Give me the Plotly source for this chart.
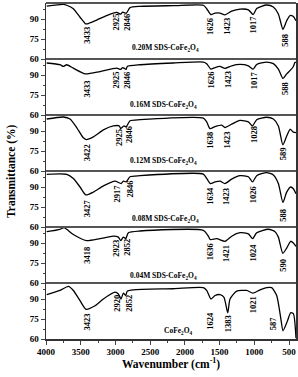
import plotly.graph_objects as go

# ---------------- data ----------------
samples = ["0.20M SDS-CoFe<sub>2</sub>O<sub>4</sub>",
           "0.16M SDS-CoFe<sub>2</sub>O<sub>4</sub>",
           "0.12M SDS-CoFe<sub>2</sub>O<sub>4</sub>",
           "0.08M SDS-CoFe<sub>2</sub>O<sub>4</sub>",
           "0.04M SDS-CoFe<sub>2</sub>O<sub>4</sub>",
           "CoFe<sub>2</sub>O<sub>4</sub>"]

wn_020 = [3990, 3750, 3702, 3606, 3510, 3438, 3433, 3390, 3270, 3126, 2982, 2925, 2896, 2846, 2790, 2646, 2166, 1734, 1686, 1626, 1566, 1494, 1423, 1326, 1206, 1086, 1017, 966, 822, 726, 654, 588, 534, 486, 438, 400]
t_020 = [99.7, 101.0, 100.3, 97.7, 91.3, 86.7, 86.4, 86.6, 89.2, 92.6, 94.9, 93.6, 95.1, 94.3, 98.5, 99.5, 100.0, 100.3, 97.7, 93.3, 94.4, 94.4, 93.1, 95.9, 97.4, 96.9, 93.3, 97.9, 100.5, 99.0, 93.8, 82.3, 88.7, 92.6, 91.8, 88.7]

wn_016 = [3990, 3798, 3750, 3702, 3606, 3433, 3222, 2982, 2925, 2896, 2846, 2830, 2646, 2166, 1734, 1686, 1626, 1566, 1494, 1423, 1326, 1206, 1086, 1017, 966, 822, 726, 654, 588, 534, 477, 438, 414, 400]
t_016 = [99.0, 97.7, 96.4, 97.7, 95.1, 90.8, 92.6, 95.1, 94.2, 95.6, 94.3, 96.4, 97.7, 99.0, 99.7, 98.5, 94.4, 95.6, 96.4, 94.9, 96.9, 97.9, 96.9, 94.4, 97.9, 99.7, 98.5, 94.4, 87.4, 90.8, 93.8, 96.4, 99.5, 99.5]

wn_012 = [3990, 3750, 3654, 3558, 3462, 3422, 3318, 3174, 3030, 2944, 2925, 2877, 2846, 2790, 2646, 1734, 1686, 1638, 1566, 1470, 1423, 1326, 1206, 1086, 1028, 966, 822, 726, 654, 589, 534, 486, 438, 400]
t_012 = [99.0, 100.5, 99.0, 92.6, 84.9, 83.6, 85.6, 90.8, 93.8, 93.8, 91.8, 93.8, 93.1, 97.7, 98.5, 99.7, 96.9, 91.8, 93.3, 94.4, 92.6, 95.1, 97.9, 96.9, 93.8, 98.5, 100.3, 99.0, 93.8, 79.7, 86.2, 91.3, 89.2, 88.7]

wn_008 = [3990, 3702, 3606, 3510, 3427, 3318, 3174, 3006, 2917, 2886, 2846, 2790, 2646, 1734, 1686, 1634, 1566, 1494, 1423, 1326, 1206, 1086, 1026, 966, 822, 726, 654, 588, 534, 477, 438, 400]
t_008 = [99.5, 99.5, 96.4, 90.0, 84.1, 86.2, 90.8, 94.4, 92.6, 94.4, 93.8, 97.7, 98.5, 99.7, 96.4, 92.6, 93.8, 94.4, 92.6, 95.9, 98.5, 97.7, 93.8, 98.5, 100.8, 99.0, 92.6, 78.4, 86.2, 90.0, 88.7, 84.9]

wn_004 = [3990, 3798, 3741, 3702, 3606, 3418, 3222, 3030, 2958, 2923, 2886, 2852, 2814, 2646, 1734, 1662, 1636, 1542, 1421, 1326, 1206, 1086, 1024, 966, 798, 702, 654, 590, 534, 477, 438, 400]
t_004 = [98.5, 100.3, 101.5, 100.3, 96.4, 91.8, 93.3, 95.1, 94.4, 91.8, 94.4, 93.3, 97.7, 99.0, 99.5, 95.1, 92.6, 93.3, 91.3, 95.1, 97.7, 96.9, 93.3, 97.7, 100.3, 98.5, 94.4, 82.3, 86.2, 91.3, 90.0, 87.4]

wn_000 = [3990, 3798, 3678, 3606, 3510, 3423, 3294, 3174, 3006, 2958, 2920, 2886, 2852, 2830, 2742, 2166, 1734, 1686, 1624, 1566, 1494, 1437, 1383, 1350, 1254, 1110, 1021, 918, 822, 750, 678, 620, 587, 525, 477, 438, 400]
t_000 = [93.3, 96.4, 99.5, 96.4, 88.7, 82.3, 84.9, 90.0, 95.1, 93.8, 90.0, 94.4, 92.6, 95.9, 96.9, 97.7, 98.5, 96.4, 90.0, 92.6, 93.3, 91.3, 79.7, 90.0, 95.9, 96.4, 94.4, 96.9, 98.5, 98.5, 92.6, 75.9, 66.2, 73.3, 79.7, 79.0, 60.5]

wavenumbers = [wn_020, wn_016, wn_012, wn_008, wn_004, wn_000]
transmittance = [t_020, t_016, t_012, t_008, t_004, t_000]

# peak labels: (text, x wavenumber, y transmittance of label centre)
peaks_020 = [("3433", 3414, 78.0), ("2925", 2992, 87.4), ("2846", 2829, 87.4), ("1626", 1629, 84.4),
             ("1423", 1389, 84.4), ("1017", 1014, 86.2), ("588", 558, 73.8)]
peaks_016 = [("3433", 3414, 79.7), ("2925", 2992, 85.9), ("2846", 2829, 85.9), ("1626", 1629, 86.4),
             ("1423", 1389, 86.4), ("1017", 1014, 86.4), ("588", 558, 79.5)]
peaks_012 = [("3422", 3414, 73.8), ("2925", 2960, 85.0), ("2846", 2814, 87.2), ("1638", 1629, 83.1),
             ("1423", 1389, 83.1), ("1028", 1014, 87.2), ("589", 582, 72.8)]
peaks_008 = [("3427", 3414, 73.8), ("2917", 2982, 84.9), ("2846", 2790, 88.2), ("1634", 1629, 83.1),
             ("1423", 1398, 83.1), ("1026", 1014, 84.1), ("588", 582, 68.7)]
peaks_004 = [("3418", 3414, 81.0), ("2923", 2992, 85.6), ("2852", 2829, 86.7), ("1636", 1638, 83.1),
             ("1421", 1408, 81.8), ("1024", 1014, 83.1), ("590", 582, 73.3)]
peaks_000 = [("3423", 3414, 72.8), ("2920", 2973, 86.7), ("2852", 2800, 86.7), ("1624", 1638, 73.8),
             ("1383", 1374, 71.3), ("1021", 1014, 85.6), ("587", 726, 72.0)]
peaks = [peaks_020, peaks_016, peaks_012, peaks_008, peaks_004, peaks_000]

sample_label_pos = [(2286, 68.2), (2310, 67.7), (2310, 67.2), (2286, 66.2), (2310, 65.6), (2094, 66.2)]

y_ticks = [60, 75, 90]
x_ticks = [4000, 3500, 3000, 2500, 2000, 1500, 1000, 500]

# ---------------- figure ----------------
FONT = "Liberation Serif"
n = len(samples)
fig = go.Figure()
layout = dict(
    width=298, height=377,
    margin=dict(l=46, r=2, t=3, b=38, autoexpand=False),
    paper_bgcolor="white", plot_bgcolor="white",
    showlegend=False,
    font=dict(family=FONT, color="black", size=9),
)

annotations = []
for k in range(n):
    yname = "y" if k == n - 1 else f"y{n - k}"
    axkey = "yaxis" if k == n - 1 else f"yaxis{n - k}"
    lo = (n - 1 - k) / n
    hi = (n - k) / n
    fig.add_trace(go.Scatter(x=wavenumbers[k], y=transmittance[k], xaxis="x", yaxis=yname,
                             mode="lines", line=dict(color="black", width=1.3, shape="spline", smoothing=0.6),
                             hoverinfo="skip"))
    layout[axkey] = dict(domain=[lo, hi], range=[60, 102], anchor="x", automargin=False,
                         tickvals=y_ticks, ticks="outside", ticklen=4, tickwidth=1,
                         minor=dict(dtick=7.5, tick0=60, ticks="outside", ticklen=2, tickwidth=1),
                         showline=True, mirror=True, linecolor="#333", linewidth=1.5,
                         showgrid=False, zeroline=False,
                         tickfont=dict(family=FONT, size=9, weight="bold"))
    for txt, xv, yv in peaks[k]:
        annotations.append(dict(x=xv, y=yv, xref="x", yref=yname, text=txt, textangle=-90,
                                showarrow=False, xanchor="center", yanchor="middle",
                                font=dict(family=FONT, size=8.5, weight="bold")))
    sx, sy = sample_label_pos[k]
    annotations.append(dict(x=sx, y=sy, xref="x", yref=yname, text=samples[k], showarrow=False,
                            xanchor="center", yanchor="middle",
                            font=dict(family=FONT, size=7.5, weight="bold")))

layout["xaxis"] = dict(range=[4000, 400], anchor="y", automargin=False, tickvals=x_ticks, ticks="outside",
                       ticklen=4, tickwidth=1,
                       minor=dict(dtick=250, tick0=0, ticks="outside", ticklen=2, tickwidth=1),
                       showline=True, mirror=False, linecolor="#333", linewidth=1.5,
                       showgrid=False, zeroline=False,
                       tickfont=dict(family=FONT, size=9, weight="bold"))

shapes = []
for k in range(1, n + 1):
    shapes.append(dict(type="line", xref="paper", yref="paper", x0=0, x1=1, y0=k / n, y1=k / n,
                       line=dict(color="#555", width=2)))

annotations.append(dict(x=-0.14, y=0.5, xref="paper", yref="paper", text="Transmittance (%)",
                        textangle=-90, showarrow=False, xanchor="center", yanchor="middle",
                        font=dict(family=FONT, size=11.5, weight="bold")))
annotations.append(dict(x=0.5, y=-0.102, xref="paper", yref="paper", text="Wavenumber (cm<sup>-1</sup>)",
                        showarrow=False, xanchor="center", yanchor="bottom",
                        font=dict(family=FONT, size=11.5, weight="bold")))

layout["annotations"] = annotations
layout["shapes"] = shapes
fig.update_layout(**layout)
fig.write_html("out.html", config={"displayModeBar": False, "staticPlot": True},
               post_script="document.body.style.margin='0px';document.body.style.padding='0px';")
